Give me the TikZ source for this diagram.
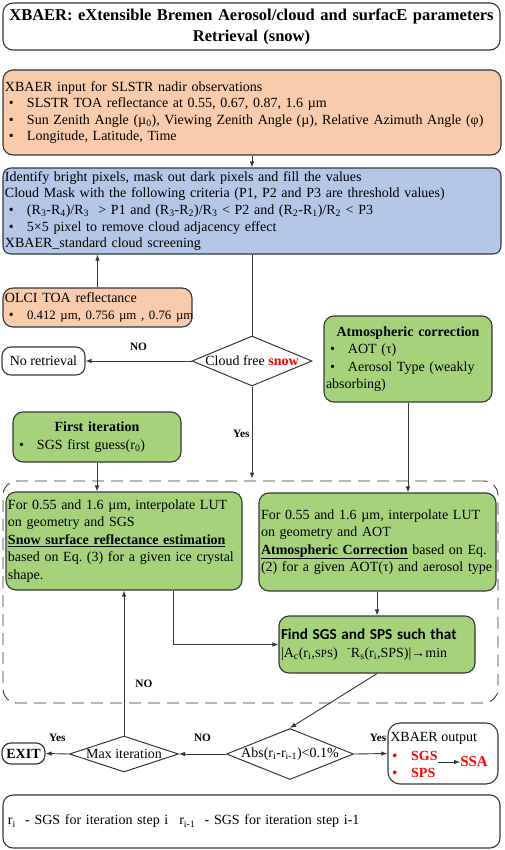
\documentclass[tikz,border=0pt]{standalone}
\usepackage{fontspec}
\setmainfont{Liberation Serif}
\newfontfamily\calibri{Carlito}
\usepackage{xcolor}
\usepackage{tikz}
\usetikzlibrary{arrows.meta,calc,positioning,shapes.geometric}

\definecolor{peach}{RGB}{248,203,173}
\definecolor{skyblue}{RGB}{180,199,231}
\definecolor{leafgreen}{RGB}{166,210,124}
\definecolor{edgegray}{RGB}{55,55,55}
\setlength{\parindent}{0pt}
\frenchspacing
\hyphenpenalty=10000
\newcommand{\bul}[1]{\par\hangindent=22pt\hangafter=1\hspace*{4pt}\makebox[18pt][l]{\textbullet}#1}
\newcommand{\midtext}[1]{\makebox[0pt][c]{#1}}

\begin{document}
\begin{tikzpicture}[x=1pt, y=-1pt, semithick, >={Latex[length=6pt,width=4.6pt]},
    every node/.style={font=\fontsize{14}{16.6}\selectfont}]
  \tikzstyle{box}=[draw=edgegray, line width=1.1pt, rectangle, rounded corners=10pt, inner xsep=2pt, inner ysep=2pt, align=left]
  \tikzstyle{greenbox}=[box, fill=leafgreen, font=\fontsize{14}{17.4}\selectfont]
  \tikzstyle{decision}=[draw=edgegray, line width=1pt, diamond, inner sep=0pt, fill=white]
  \tikzstyle{lbl}=[font=\fontsize{11.3}{12}\selectfont\bfseries, inner sep=0pt]
  \tikzstyle{link}=[draw=edgegray, line width=0.9pt]

\useasboundingbox (0,0) rectangle (504,850);

% header and inputs
\node[box, minimum width=497pt, minimum height=47pt, text width=495pt, inner xsep=1pt, align=center,
  font=\fontsize{16.5}{21}\selectfont\bfseries] (title) at (251.5,26.5)
  {XBAER: eXtensible Bremen Aerosol/cloud and surfacE parameters\\Retrieval (snow)};
\node[box, fill=peach, minimum width=498pt, minimum height=85pt, text width=494pt] (input) at (252,112.5)
  {XBAER input for SLSTR nadir observations
   \bul{SLSTR TOA reflectance at 0.55, 0.67, 0.87, 1.6 µm}
   \bul{Sun Zenith Angle (µ\textsubscript{0}), Viewing Zenith Angle (µ), Relative Azimuth Angle (φ)}
   \bul{Longitude, Latitude, Time}};
\node[box, fill=skyblue, rounded corners=8pt, minimum width=498pt, minimum height=86pt, text width=494pt] (mask) at (252,211)
  {Identify bright pixels, mask out dark pixels and fill the values\\
   Cloud Mask with the following criteria (P1, P2 and P3 are threshold values)
   \bul{(R\textsubscript{3}-R\textsubscript{4})/R\textsubscript{3}\ \ > P1 and (R\textsubscript{3}-R\textsubscript{2})/R\textsubscript{3} < P2 and (R\textsubscript{2}-R\textsubscript{1})/R\textsubscript{2} < P3}
   \bul{5×5 pixel to remove cloud adjacency effect}
   \par XBAER\_standard cloud screening};
\node[box, fill=peach, minimum width=189pt, minimum height=39pt, text width=185pt] (olci) at (97.5,307.5)
  {OLCI TOA reflectance
   \bul{\mbox{\fontsize{12.8}{16}\selectfont 0.412 µm, 0.756 µm , 0.76 µm}}};

% cloud test
\node[decision, minimum width=120pt, minimum height=50pt] (cloudfree) at (252,361)
  {\midtext{Cloud free \textcolor{red}{\bfseries snow}}};
\node[box, rounded corners=9pt, minimum width=83pt, minimum height=28pt, align=center] (noretr) at (43.5,361) {No retrieval};
\node[greenbox, minimum width=168pt, minimum height=86pt, text width=164pt] (atmos) at (408,359)
  {\makebox[164pt]{\bfseries Atmospheric correction}
   \bul{AOT (τ)}
   \bul{Aerosol Type (weakly\newline absorbing)}};
\node[greenbox, minimum width=168pt, minimum height=50pt, text width=164pt] (firstit) at (97,437)
  {\makebox[164pt]{\bfseries First iteration}
   \bul{SGS first guess(r\textsubscript{0})}};

% iteration loop
\node[draw=edgegray, line width=0.9pt, dash pattern=on 12pt off 7pt, rounded corners=14pt,
  minimum width=495pt, minimum height=222pt] (loop) at (250.5,592) {};
\node[greenbox, minimum width=236pt, minimum height=98pt, text width=232pt] (sgsbox) at (124,541)
  {For 0.55 and 1.6 µm, interpolate LUT\\on geometry and SGS\\
   \underline{\textbf{Snow surface reflectance estimation}}\\
   based on Eq. (3) for a given ice crystal\\shape.};
\node[greenbox, minimum width=237pt, minimum height=98pt, text width=233pt] (aocbox) at (377.5,542)
  {For 0.55 and 1.6 µm, interpolate LUT\\on geometry and AOT\\
   \underline{\textbf{Atmospheric Correction}} based on Eq.\\
   \mbox{(2) for a given AOT(τ) and aerosol type}};
\node[greenbox, minimum width=196pt, minimum height=57pt, text width=192pt] (findbox) at (377,644.5)
  {{\calibri\fontsize{15.2}{17}\selectfont\bfseries Find SGS and SPS such that}\\
   |A\textsubscript{c}(r\textsubscript{i},{\fontsize{11}{12}\selectfont SPS})\ \ \textsuperscript{-}R\textsubscript{s}(r\textsubscript{i},SPS)|→min};

% convergence
\node[decision, minimum width=127pt, minimum height=51pt] (absdiff) at (290,754)
  {\midtext{Abs(r\textsubscript{i}-r\textsubscript{i-1})<0.1\%}};
\node[decision, minimum width=109pt, minimum height=36pt] (maxit) at (124,754) {\midtext{Max iteration}};
\node[box, rounded corners=9pt, line width=1.2pt, minimum width=43pt, minimum height=21pt, inner xsep=1pt,
  align=center, font=\fontsize{14}{16}\selectfont\bfseries] (exitbox) at (23.5,753.5) {EXIT};
\node[box, rounded corners=12pt, minimum width=110pt, minimum height=61pt] (output) at (443,753.5) {};
\node[anchor=west, inner sep=0pt] (outtitle) at (390,738) {XBAER output};
\node[anchor=west, inner sep=0pt, text=red, font=\fontsize{14}{16}\selectfont\bfseries] (sgs) at (392,756) {\textbullet\hspace{14pt}SGS};
\node[anchor=west, inner sep=0pt, text=red, font=\fontsize{14}{16}\selectfont\bfseries] (sps) at (392,773) {\textbullet\hspace{14pt}SPS};
\node[anchor=west, inner sep=0pt, text=red, font=\fontsize{15}{16}\selectfont\bfseries] (ssa) at (460,762) {SSA};
\node[box, minimum width=497pt, minimum height=53pt, text width=493pt] (legend) at (251.5,821.5)
  {\hspace*{3pt}r\textsubscript{i}\ \ - SGS for iteration step i\hspace{11pt}r\textsubscript{i-1}\ \ - SGS for iteration step i-1};

% connectors
\draw[link,->] (input) -- (mask);
\draw[link,->] (olci.north) -- (olci.north |- mask.south);
\draw[link] (mask) -- (cloudfree);
\draw[link,->] (cloudfree) -- node[lbl, above=10pt] {NO} (noretr);
\draw[link,->, shorten >=2pt] (cloudfree) -- node[lbl, left=2pt] {Yes} (cloudfree |- loop.north);
\draw[link,->] (firstit.south) -- (firstit.south |- sgsbox.north);
\draw[link,->] (atmos.south) -- (atmos.south |- aocbox.north);
\draw[link,->] ([xshift=49pt]sgsbox.south) |- (findbox.west);
\draw[link,->] (findbox.north |- aocbox.south) -- (findbox.north);
\draw[link,->] (findbox.south) -- (absdiff.north);
\draw[link,->] (absdiff.west) -- node[lbl, above=12pt] {NO} (maxit.east);
\draw[link,->] (maxit.west) -- node[lbl, above=12pt] {Yes} (exitbox.east);
\draw[link,->] (maxit.north) -- node[lbl, pos=0.36, right=11pt] {NO} (maxit.north |- sgsbox.south);
\draw[link,->] (absdiff.east) -- node[lbl, pos=0.72, above=12pt] {Yes} (output.west);
\draw[link,->] (sgs.east |- ssa.west) -- (ssa.west);
\end{tikzpicture}
\end{document}
